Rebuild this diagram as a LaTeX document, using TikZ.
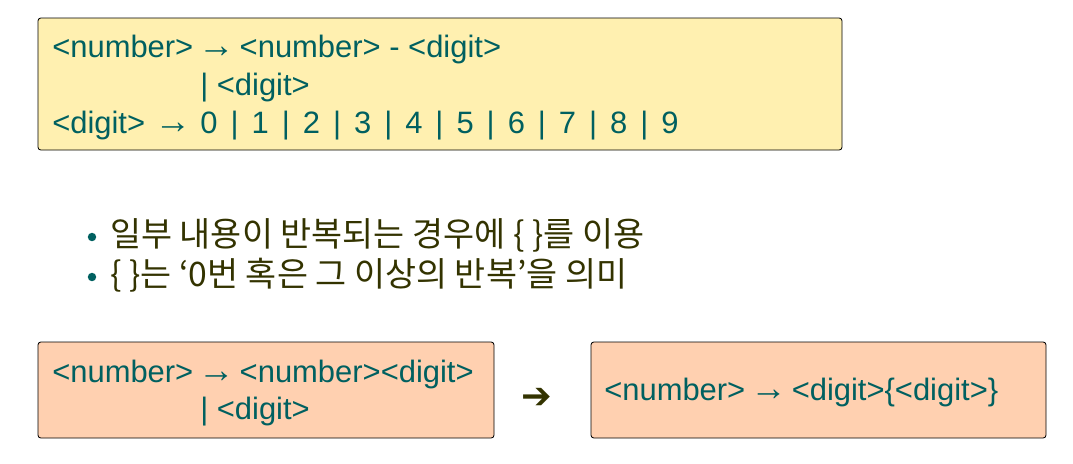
\documentclass[tikz,border=0pt]{standalone}
\usepackage{fontspec}
\setmainfont{Liberation Sans}
\newfontfamily\krfont{Noto Sans CJK KR}
\newfontfamily\symfont{DejaVu Sans}
\usepackage{tikz}
\usetikzlibrary{calc}
\definecolor{Rule}{RGB}{0, 96, 96}
\definecolor{Note}{RGB}{51, 51, 0}
\definecolor{BoxYellow}{RGB}{255, 240, 176}
\definecolor{BoxPeach}{RGB}{255, 208, 176}

\tikzset{
    gbox/.style={draw=black, rounded corners=2pt, line width=0.6pt},
    rule/.style={anchor=base west, inner sep=0pt, text=Rule, font=\fontsize{22}{26}\selectfont},
    note/.style={anchor=base west, inner sep=0pt, text=Note, font=\krfont\fontsize{24}{28}\selectfont},
    dot/.style={circle, fill=Rule, inner sep=0pt, minimum size=6pt}
}
\newcommand{\ar}{{\fontsize{26}{26}\selectfont\kern-0.1em→\kern-0.1em}}

\begin{document}
\begin{tikzpicture}[x=0.025cm, y=-0.025cm]
    %%Background
    \useasboundingbox (0,0) rectangle (1073,463);

    %% Grammar with left recursion
    \draw[gbox, fill=BoxYellow] (38,18) rectangle (842,150);
    \node[rule] (l1) at (52,57) {<number> \ar{} <number> - <digit>};
    \node[rule] (l2) at (200,95) {| <digit>};
    \node[rule] (l3) at (52,133) {\spaceskip=0.42em <digit> \ar{} 0 | 1 | 2 | 3 | 4 | 5 | 6 | 7 | 8 | 9};

    %% Notes
    \node[dot] (d1) at (92,237) {};
    \node[dot] (d2) at (92,277) {};
    \node[note] (n1) at (110,246) {일부 내용이 반복되는 경우에 \{ \}를 이용};
    \node[note] (n2) at (110,286) {\{ \}는 ‘0번 혹은 그 이상의 반복’을 의미};

    %% Before and after
    \draw[gbox, fill=BoxPeach] (38,342) rectangle (494,438);
    \node[rule] (b1) at (52,382) {<number> \ar{} <number><digit>};
    \node[rule] (b2) at (200,419) {| <digit>};

    \node[text=Note, font=\symfont\fontsize{26}{28}\selectfont] (go) at (537,398) {➔};

    \draw[gbox, fill=BoxPeach] (591,342) rectangle (1046,438);
    \node[rule] (c1) at (604,400) {<number> \ar{} <digit>\{<digit>\}};

\end{tikzpicture}
\end{document}
